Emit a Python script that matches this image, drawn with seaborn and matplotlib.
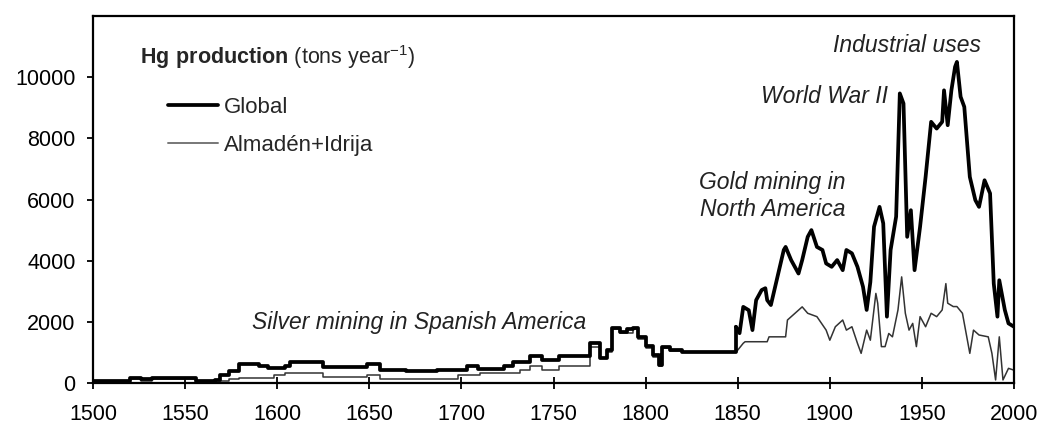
import pandas as pd
import seaborn as sns
import matplotlib.pyplot as plt
from matplotlib.lines import Line2D

# Global Hg production (tons per year)
global_years = [1500, 1520, 1526, 1532, 1545, 1556, 1566, 1569, 1574, 1579, 1590, 1595,
                1604, 1607, 1625, 1649, 1656, 1670, 1687, 1703, 1709, 1723, 1728, 1737,
                1744, 1753, 1770, 1775, 1779, 1782, 1786, 1790, 1793, 1796, 1800, 1804,
                1807, 1809, 1813, 1820, 1849, 1851, 1853, 1856, 1858, 1860, 1863, 1865,
                1866, 1868, 1875, 1876, 1879, 1883, 1885, 1888, 1890, 1893, 1896, 1898,
                1901, 1904, 1907, 1909, 1912, 1915, 1918, 1920, 1922, 1924, 1927, 1929,
                1931, 1933, 1936, 1938, 1940, 1942, 1944, 1946, 1949, 1952, 1955, 1958,
                1961, 1962, 1964, 1966, 1968, 1969, 1971, 1973, 1976, 1979, 1981, 1984,
                1987, 1989, 1991, 1992, 1995, 1997, 2000]
global_tons = [80, 180, 120, 170, 150, 60, 110, 270, 380, 620, 560, 500,
               560, 680, 530, 620, 420, 380, 420, 550, 450, 570, 700, 880,
               760, 880, 1300, 820, 1080, 1800, 1680, 1750, 1800, 1500, 1200, 900,
               590, 1190, 1080, 1020, 1840, 1630, 2490, 2380, 1730, 2710, 3040, 3100,
               2710, 2550, 4350, 4450, 4020, 3580, 4020, 4780, 5000, 4450, 4350, 3910,
               3800, 4020, 3690, 4350, 4240, 3800, 3150, 2390, 3300, 5110, 5760, 5220,
               2170, 4350, 5440, 9470, 9140, 4780, 5650, 3690, 5110, 6740, 8540, 8320,
               8540, 9570, 8430, 9570, 10340, 10500, 9360, 9030, 6740, 5980, 5760, 6630,
               6200, 3250, 2170, 3360, 2390, 1950, 1840]

# Almadén + Idrija production (tons per year)
mines_years = [1500, 1520, 1526, 1532, 1556, 1566, 1574, 1579, 1598, 1604, 1625, 1649,
               1656, 1698, 1710, 1732, 1737, 1744, 1753, 1770, 1775, 1779, 1782, 1786,
               1793, 1796, 1800, 1804, 1807, 1809, 1813, 1820, 1849, 1853, 1854, 1866,
               1867, 1876, 1877, 1885, 1888, 1893, 1898, 1900, 1903, 1907, 1909, 1912,
               1915, 1917, 1920, 1922, 1925, 1926, 1928, 1930, 1932, 1934, 1937, 1939,
               1941, 1943, 1945, 1947, 1949, 1952, 1955, 1958, 1961, 1963, 1964, 1967,
               1969, 1972, 1976, 1978, 1981, 1986, 1988, 1990, 1992, 1994, 1997, 2000]
mines_tons = [60, 120, 80, 120, 50, 80, 120, 170, 260, 320, 200, 260,
              130, 260, 340, 420, 550, 430, 570, 1190, 820, 1000, 1750, 1650,
              1750, 1450, 1150, 850, 560, 1150, 1050, 1000, 1000, 1300, 1350, 1350,
              1510, 1510, 2060, 2490, 2280, 2170, 1730, 1400, 1840, 2060, 1730, 1840,
              1300, 970, 1730, 1400, 2930, 2610, 1190, 1190, 1620, 1510, 2390, 3470,
              2280, 1730, 1950, 1190, 2170, 1840, 2280, 2170, 2390, 3250, 2610, 2500,
              2500, 2280, 970, 1730, 1570, 1510, 970, 100, 1510, 100, 480, 420]

# year where records switch from decadal steps to annual values
break_year = 1849

annotations = [
    ("Silver mining in Spanish America", 1677, 1990),
    ("Gold mining in\nNorth America", 1869, 6110),
    ("World War II", 1897, 9380),
    ("Industrial uses", 1942, 11050),
]

sns.set_style("ticks")
plt.rcParams['font.family'] = ['Liberation Sans', 'DejaVu Sans']
plt.rcParams['mathtext.fontset'] = 'custom'
plt.rcParams['mathtext.rm'] = 'Liberation Sans'
plt.rcParams['mathtext.bf'] = 'Liberation Sans:bold'

glob = pd.DataFrame({'year': global_years, 'tons': global_tons})
mines = pd.DataFrame({'year': mines_years, 'tons': mines_tons})

fig = plt.figure(figsize=(10.38, 4.26), dpi=100)
ax = fig.add_axes([0.0896, 0.1009, 0.8873, 0.8615])

styles = [(mines, '#333333', 1.1), (glob, 'black', 2.7)]
for df, color, lw in styles:
    early = df[df['year'] <= break_year]
    late = df[df['year'] >= break_year]
    sns.lineplot(data=early, x='year', y='tons', ax=ax, color=color, lw=lw,
                 drawstyle='steps-post')
    sns.lineplot(data=late, x='year', y='tons', ax=ax, color=color, lw=lw)

ax.set_xlim(1500, 2000)
ax.set_ylim(0, 12000)
ax.set_xticks(range(1500, 2001, 50))
ax.set_yticks(range(0, 10001, 2000))
ax.set_xlabel('')
ax.set_ylabel('')
ax.tick_params(labelsize=15.5, width=1.3, colors='black')
ax.tick_params(axis='x', direction='inout', length=8, pad=11)
ax.tick_params(axis='y', direction='out', length=4.5, pad=8)
for s in ax.spines.values():
    s.set_linewidth(1.6)
    s.set_color('black')

for label, x, y in annotations:
    ax.text(x, y, label, fontsize=16.5, style='italic', ha='center', va='center',
            color='#222222')

ax.text(0.051, 0.868, r"$\mathbf{Hg\ production}$ (tons year$^{-1}$)",
        transform=ax.transAxes, fontsize=15.5, ha='left', va='baseline')

handles = [Line2D([], [], color='black', lw=2.7),
           Line2D([], [], color='#777777', lw=1.4)]
ax.legend(handles, ['Global', 'Almadén+Idrija'], loc='upper left',
          bbox_to_anchor=(0.081, 0.779), frameon=False, fontsize=16,
          handlelength=2.25, handletextpad=0.3, labelspacing=0.75,
          borderpad=0, borderaxespad=0)

fig.savefig('out.png', dpi=100)
